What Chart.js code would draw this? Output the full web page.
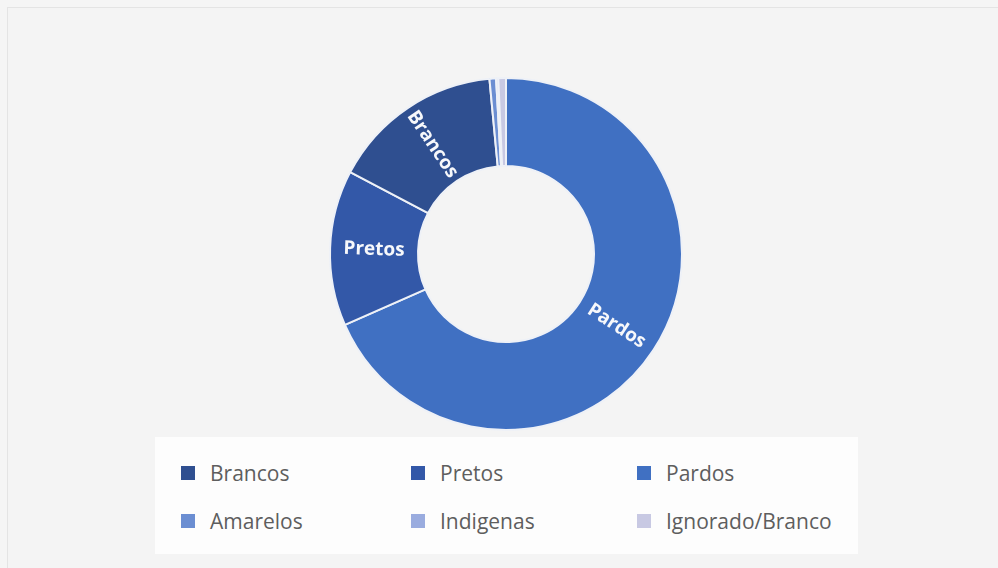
<!DOCTYPE html>
<html>
<head>
<meta charset="utf-8">
<script src="https://cdn.jsdelivr.net/npm/chart.js@4.4.0/dist/chart.umd.min.js"></script>
<style>
  html, body { margin: 0; padding: 0; }
  body {
    width: 998px; height: 568px; position: relative; overflow: hidden;
    background: #f5f5f5;
  }
  .frame {
    position: absolute; left: 7px; top: 7px; right: 0; bottom: 0;
    border-left: 1px solid #e4e4e4; border-top: 1px solid #e4e4e4;
    background: #f4f4f4;
  }
  #chartWrap { position: absolute; left: 325px; top: 73px; width: 362px; height: 362px; }
  #legend {
    position: absolute; left: 155px; top: 437px; width: 703px; height: 117px;
    background: #fdfdfd;
    font-family: "Open Sans", sans-serif; font-size: 21px; color: #5e5e5e;
  }
  .item { position: absolute; display: flex; align-items: center; height: 26px; }
  .item .box { width: 14px; height: 14px; margin-right: 15px; }
</style>
</head>
<body>
<div class="frame"></div>
<div id="chartWrap"><canvas id="chartCanvas"></canvas></div>
<div id="legend"></div>

<script>
// share of each group, in percent (legend order)
var categories = ["Brancos", "Pretos", "Pardos", "Amarelos", "Indigenas", "Ignorado/Branco"];
var values = [15.8, 14.3, 68.4, 0.6, 0.2, 0.7];
var colors = ["#2f4f90", "#3358a8", "#4070c2", "#6b8ed2", "#9aacdf", "#c8c9e3"];

// order the slices are laid out clockwise from the top
var sliceOrder = [2, 1, 0, 3, 4, 5];

// only the big slices get a label inside the ring
var labelled = ["Brancos", "Pretos", "Pardos"];

// writes the slice name along the radius, turned so it never reads upside down
var sliceLabels = {
  id: "sliceLabels",
  afterDatasetsDraw: function (chart) {
    var ctx = chart.ctx;
    var meta = chart.getDatasetMeta(0);
    ctx.save();
    ctx.fillStyle = "#f7f8fb";
    ctx.font = "bold 19px 'Open Sans', sans-serif";
    ctx.textAlign = "center";
    ctx.textBaseline = "middle";
    meta.data.forEach(function (arc, i) {
      var name = chart.data.labels[i];
      if (labelled.indexOf(name) === -1) return;
      var p = arc.getProps(["x", "y", "startAngle", "endAngle", "innerRadius", "outerRadius"], true);
      var mid = (p.startAngle + p.endAngle) / 2;
      var r = (p.innerRadius + p.outerRadius) / 2;
      var x = p.x + Math.cos(mid) * r;
      var y = p.y + Math.sin(mid) * r;
      var rot = mid;
      while (rot > Math.PI / 2) rot -= Math.PI;
      while (rot <= -Math.PI / 2) rot += Math.PI;
      ctx.save();
      ctx.translate(x, y);
      ctx.rotate(rot);
      ctx.fillText(name, 0, 0);
      ctx.restore();
    });
    ctx.restore();
  }
};

var ctx = document.getElementById("chartCanvas").getContext("2d");
var raceChart = new Chart(ctx, {
  type: "doughnut",
  data: {
    labels: sliceOrder.map(function (i) { return categories[i]; }),
    datasets: [
      {
        data: sliceOrder.map(function (i) { return values[i]; }),
        backgroundColor: sliceOrder.map(function (i) { return colors[i]; }),
        borderColor: "#eef1f7",
        borderWidth: 2
      }
    ]
  },
  options: {
    responsive: true,
    maintainAspectRatio: false,
    animation: false,
    cutout: "50%",
    layout: { padding: 4 },
    plugins: {
      legend: { display: false },
      tooltip: { enabled: false }
    }
  },
  plugins: [sliceLabels]
});

// legend in a 3 x 2 grid, in the series' own order
var legendBox = document.getElementById("legend");
var colX = [26, 256, 482];
var rowY = [23, 71];
categories.forEach(function (name, i) {
  var el = document.createElement("div");
  el.className = "item";
  el.style.left = colX[i % 3] + "px";
  el.style.top = rowY[Math.floor(i / 3)] + "px";
  el.innerHTML = '<span class="box" style="background:' + colors[i] + '"></span>' + name;
  legendBox.appendChild(el);
});
</script>
</body>
</html>
